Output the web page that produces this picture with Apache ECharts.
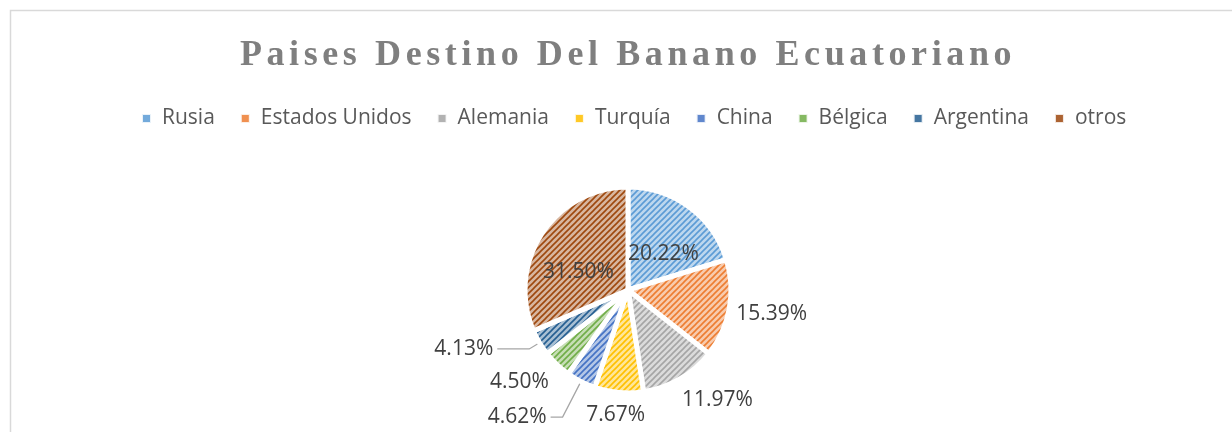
<!DOCTYPE html>
<html>
<head>
<meta charset="utf-8">
<script src="https://cdn.jsdelivr.net/npm/echarts@6/dist/echarts.min.js"></script>
<style>
  html, body { margin: 0; padding: 0; overflow: hidden; background: #fff; }
  #wrap { position: relative; width: 1256px; height: 460px; }
  #chart { position: absolute; left: 0; top: 0; width: 1256px; height: 460px; }
  #title {
    position: absolute; left: 0; top: 35px; width: 1256px; text-align: center;
    font-family: 'Liberation Serif', serif; font-weight: bold; font-size: 36px;
    line-height: 36px; letter-spacing: 4.6px; color: #7f7f7f; pointer-events: none;
  }
</style>
</head>
<body>
<div id="wrap">
  <div id="chart"></div>
  <div id="title">Paises Destino Del Banano Ecuatoriano</div>
</div>
<script>
// data
const categories = ['Rusia', 'Estados Unidos', 'Alemania', 'Turquía', 'China', 'Bélgica', 'Argentina', 'otros']
const shares = [20.22, 15.39, 11.97, 7.67, 4.62, 4.50, 4.13, 31.50]
const labelInside = ['Rusia', 'otros']

// Office palette
const palette = ['#5B9BD5', '#ED7D31', '#A5A5A5', '#FFC000', '#4472C4', '#70AD47', '#255E91', '#9E480E']

/**
 * Light version of a colour
 */
function lighten(hex, t) {
  const n = parseInt(hex.slice(1), 16)
  const r = (n >> 16) & 255, g = (n >> 8) & 255, b = n & 255
  const m = v => Math.round(v + (255 - v) * t)
  return `rgb(${m(r)},${m(g)},${m(b)})`
}

/**
 * Diagonal stripe pattern like Excel's "wide upward diagonal"
 */
function stripes(fg) {
  const s = 6
  const c = document.createElement('canvas')
  c.width = s
  c.height = s
  const ctx = c.getContext('2d')
  ctx.fillStyle = lighten(fg, 0.6)
  ctx.fillRect(0, 0, s, s)
  ctx.strokeStyle = fg
  ctx.lineWidth = 1.6
  ctx.beginPath()
  ctx.moveTo(-1, s + 1); ctx.lineTo(s + 1, -1)
  ctx.moveTo(-1, 1); ctx.lineTo(1, -1)
  ctx.moveTo(s - 1, s + 1); ctx.lineTo(s + 1, s - 1)
  ctx.stroke()
  return { image: c, repeat: 'repeat' }
}

// label line tweaks per slice
const lineCfg = {
  'Estados Unidos': { show: false, length: 6, length2: 4 },
  'Alemania': { show: false, length: 8, length2: 4 },
  'Turquía': { show: false, length: 20, length2: 0 },
  'China': { show: true, length: 40, length2: 12 },
  'Bélgica': { show: false, length: 6, length2: 6 },
  'Argentina': { show: true, length: 12, length2: 32 },
}

// small nudges of the label text, relative to where the library puts it
const labelShift = {
  'Rusia': [3, 8],
  'Estados Unidos': [-7, 4],
  'Alemania': [-10, 14],
  'Turquía': [32, 3],
  'Bélgica': [6, 13],
  'otros': [-4, 12],
}

const chart = echarts.init(document.getElementById('chart'))

const pieData = categories.map((name, i) => {
  const inside = labelInside.includes(name)
  return {
    name,
    value: shares[i],
    itemStyle: { color: stripes(palette[i]) },
    label: { position: inside ? 'inside' : 'outside' },
    labelLine: inside ? { show: false } : lineCfg[name],
  }
})

const option = {
  animation: false,
  textStyle: { fontFamily: 'Open Sans' },
  graphic: [{
    type: 'rect',
    shape: { x: 10.5, y: 10.5, width: 1235, height: 460 },
    style: { fill: 'none', stroke: '#d9d9d9', lineWidth: 1.5 },
    silent: true,
  }],
  legend: {
    data: categories.map((name, i) => ({ name, itemStyle: { color: palette[i], opacity: 0.85 } })),
    top: 103,
    left: 136,
    itemWidth: 9,
    itemHeight: 9,
    itemGap: 25,
    icon: 'rect',
    textStyle: { fontSize: 21, color: '#595959', padding: [0, 0, 0, 6] },
  },
  series: [{
    type: 'pie',
    center: [628, 290],
    radius: 103,
    startAngle: 90,
    clockwise: true,
    avoidLabelOverlap: false,
    itemStyle: { borderColor: '#fff', borderWidth: 5 },
    label: {
      fontSize: 21,
      color: '#404040',
      distanceToLabelLine: 4,
      formatter: p => p.value.toFixed(2) + '%',
    },
    labelLine: { lineStyle: { color: '#a6a6a6', width: 1.3 } },
    labelLayout: p => {
      const d = labelShift[categories[p.dataIndex]]
      return d ? { dx: d[0], dy: d[1] } : {}
    },
    data: pieData,
  }],
}

chart.setOption(option)
</script>
</body>
</html>
